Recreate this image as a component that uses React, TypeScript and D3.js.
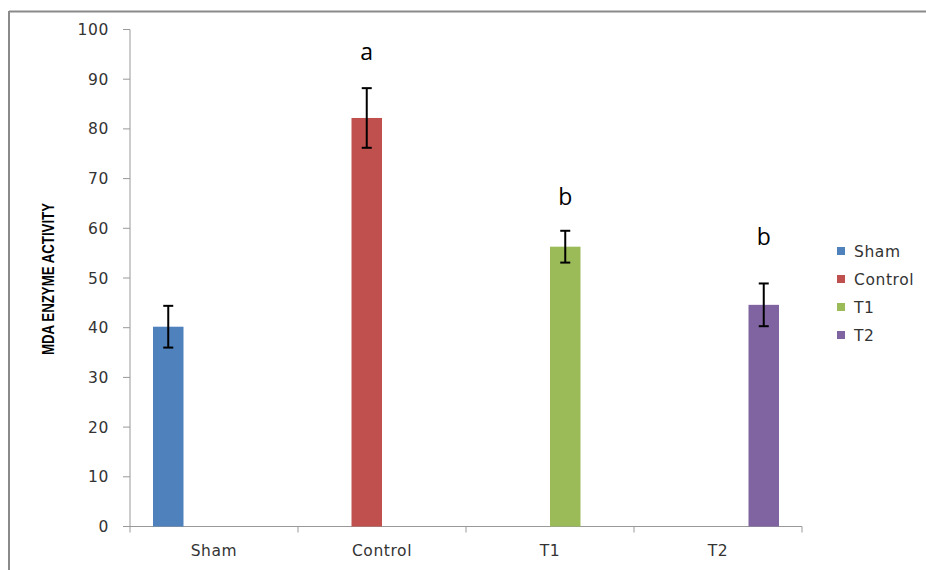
import React from "react";
import * as d3 from "d3";

const categories = ["Sham", "Control", "T1", "T2"];
const values = [40.2, 82.2, 56.3, 44.6];
const errors = [4.2, 6.0, 3.2, 4.3];
const colors = ["#4F81BD", "#C0504D", "#9BBB59", "#8064A2"];
const sigLetters = ["", "a", "b", "b"];
const sigLetterValues = [0, 95.5, 66.3, 58.2];
const yTicks = [0, 10, 20, 30, 40, 50, 60, 70, 80, 90, 100];
const yTitle = "MDA ENZYME ACTIVITY";

export default function App() {
  const W = 926, H = 570;
  const left = 130, right = 802, top = 29.5, bottom = 526.5;
  const x = d3.scaleBand<string>().domain(categories).range([left, right]).paddingInner(0).paddingOuter(0);
  const y = d3.scaleLinear().domain([0, 100]).range([bottom, top]);
  const bw = x.bandwidth();
  const barW = 30.5;
  const groupPad = (bw - barW * categories.length) / 2;
  const tickFont = "'DejaVu Sans', Verdana, sans-serif";
  const fs = 15.5;
  const ls = 0.6;
  return (
    <svg width={W} height={H} style={{ position: "absolute", left: 0, top: 0, background: "#fff" }}>
      <rect x={0} y={0} width={W} height={H} fill="#fff" />
      <line x1={9} y1={11.5} x2={W} y2={11.5} stroke="#8a8a8a" strokeWidth={2} />
      <line x1={9} y1={11} x2={9} y2={H} stroke="#8a8a8a" strokeWidth={2} />
      {/* y axis */}
      <line x1={left} y1={top} x2={left} y2={bottom} stroke="#999" strokeWidth={1} />
      {yTicks.map((t) => (
        <g key={t}>
          <line x1={left - 7} x2={left} y1={y(t)} y2={y(t)} stroke="#999" />
          <text x={109} y={y(t)} dy="0.36em" textAnchor="end" fontSize={fs} letterSpacing={ls} fill="#333" fontFamily={tickFont}>{t}</text>
        </g>
      ))}
      {/* x axis */}
      <line x1={left} y1={bottom} x2={right} y2={bottom} stroke="#999" />
      {[...categories.map((c) => x(c)!), right].map((p, i) => (
        <line key={i} x1={p} x2={p} y1={bottom} y2={bottom + 6} stroke="#999" />
      ))}
      {categories.map((c) => (
        <text key={c} x={x(c)! + bw / 2} y={556} textAnchor="middle" fontSize={fs} letterSpacing={ls} fill="#333" fontFamily={tickFont}>{c}</text>
      ))}
      {/* bars */}
      {categories.map((c, i) => {
        const bx = x(c)! + groupPad + i * barW;
        const cx = bx + barW / 2;
        return (
          <g key={c}>
            <rect x={bx} y={y(values[i])} width={barW} height={bottom - y(values[i])} fill={colors[i]} />
            <line x1={cx} x2={cx} y1={y(values[i] + errors[i])} y2={y(values[i] - errors[i])} stroke="#000" strokeWidth={2} />
            <line x1={cx - 5} x2={cx + 5} y1={y(values[i] + errors[i])} y2={y(values[i] + errors[i])} stroke="#000" strokeWidth={2} />
            <line x1={cx - 5} x2={cx + 5} y1={y(values[i] - errors[i])} y2={y(values[i] - errors[i])} stroke="#000" strokeWidth={2} />
            {sigLetters[i] && (
              <text x={cx} y={y(sigLetterValues[i])} dy="0.35em" textAnchor="middle" fontSize={23} fill="#000" fontFamily="'Open Sans', 'Liberation Sans', Arial, sans-serif">{sigLetters[i]}</text>
            )}
          </g>
        );
      })}
      {/* y title */}
      <text transform={`translate(54, 279) rotate(-90)`} textAnchor="middle" fontSize={17} fontWeight="bold" fill="#000" textLength={152} lengthAdjust="spacingAndGlyphs" fontFamily="'Liberation Sans', Arial, sans-serif">{yTitle}</text>
      {/* legend */}
      {categories.map((c, i) => (
        <g key={c}>
          <rect x={837} y={251 + i * 28 - 4} width={8} height={8} fill={colors[i]} />
          <text x={854} y={251 + i * 28} dy="0.36em" fontSize={fs} letterSpacing={ls} fill="#333" fontFamily={tickFont}>{c}</text>
        </g>
      ))}
    </svg>
  );
}
